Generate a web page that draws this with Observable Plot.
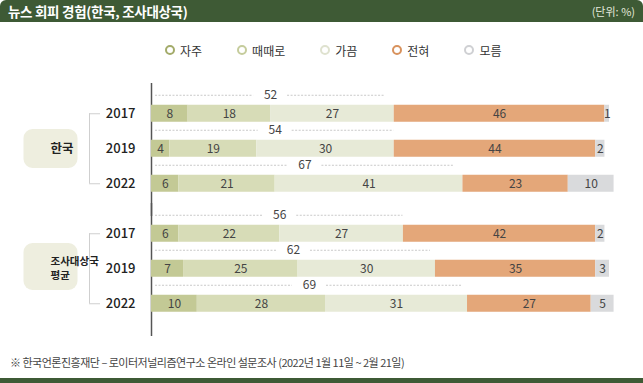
<!DOCTYPE html>
<html><head><meta charset="utf-8">
<script src="https://cdn.jsdelivr.net/npm/d3@7"></script>
<script src="https://cdn.jsdelivr.net/npm/@observablehq/plot@0.6"></script>
<style>
html,body{margin:0;padding:0;background:#fff;}
body{width:643px;height:383px;overflow:hidden;position:relative;font-family:"Noto Sans CJK KR","Noto Sans",sans-serif;}
#hdr{position:absolute;left:0;top:0;width:643px;height:22px;background:#3e5a35;border-radius:6px 6px 0 0;color:#fff;}
#hdr .t{position:absolute;left:8px;top:0;line-height:22px;font-size:13.5px;font-weight:700;letter-spacing:-0.3px;}
#hdr .u{position:absolute;right:8px;top:0;line-height:22px;font-size:11px;color:#e4e9dc;}
#legend{position:absolute;left:165px;top:40px;height:20px;display:flex;gap:35px;align-items:center;font-size:12px;color:#333;}
#legend .it{display:flex;align-items:center;gap:5px;}
#legend .sw{width:6px;height:6px;border-radius:50%;border:2.5px solid;background:#fff;}
#chart{position:absolute;left:0;top:70px;}
#note{position:absolute;left:10px;top:354px;font-size:11px;color:#444;letter-spacing:-0.5px;}
#foot{position:absolute;left:0;top:378px;width:643px;height:5px;background:#3e5a35;}
</style></head>
<body>
<div id="hdr"><span class="t">뉴스 회피 경험(한국, 조사대상국)</span><span class="u">(단위: %)</span></div>
<div id="legend"></div>
<div id="chart"></div>
<div id="note">※ 한국언론진흥재단 – 로이터저널리즘연구소 온라인 설문조사 (2022년 1월 11일 ~ 2월 21일)</div>
<div id="foot"></div>
<script>
const categories = ["자주", "때때로", "가끔", "전혀", "모름"];
const colors = ["#c3c995", "#d7dcb7", "#e7ead7", "#e4a779", "#d9dadc"];
const ringColors = ["#a3ab6a", "#c5cc9c", "#dfe2cf", "#d8925d", "#cfd0d3"];
const groups = ["한국", "조사대상국 평균"];
const groupLabels = ["한국", "조사대상국\n평균"];
const years = ["2017", "2019", "2022"];
// values per group, per year, in category order
const korea2017 = [8, 18, 27, 46, 1];
const korea2019 = [4, 19, 30, 44, 2];
const korea2022 = [6, 21, 41, 23, 10];
const avg2017 = [6, 22, 27, 42, 2];
const avg2019 = [7, 25, 30, 35, 3];
const avg2022 = [10, 28, 31, 27, 5];
// totals shown above bars (자주+때때로+가끔)
const totalsKorea = [52, 54, 67];
const totalsAvg = [56, 62, 69];

const series = [[korea2017, korea2019, korea2022], [avg2017, avg2019, avg2022]];
const rows = [];
groups.forEach((g, gi) => years.forEach((y, yi) => categories.forEach((c, ci) => {
  rows.push({group: g, year: y, cat: c, value: series[gi][yi][ci]});
})));
const totals = [];
[totalsKorea, totalsAvg].forEach((arr, gi) => years.forEach((y, yi) => totals.push({group: groups[gi], year: y, total: arr[yi]})));
const groupData = groups.map((g, i) => ({group: g, label: groupLabels[i]}));

// legend
const leg = d3.select("#legend");
categories.forEach((c, i) => {
  const it = leg.append("div").attr("class", "it");
  it.append("span").attr("class", "sw").style("border-color", ringColors[i]);
  it.append("span").text(c);
});

function roundBox(w) {
  return {draw(ctx, size) {
    const h = Math.sqrt(size / Math.PI) * 2, r = 9;
    const x0 = -w / 2, y0 = -h / 2, x1 = w / 2, y1 = h / 2;
    ctx.moveTo(x0 + r, y0);
    ctx.arcTo(x1, y0, x1, y1, r);
    ctx.arcTo(x1, y1, x0, y1, r);
    ctx.arcTo(x0, y1, x0, y0, r);
    ctx.arcTo(x0, y0, x1, y0, r);
    ctx.closePath();
  }};
}

const dash = "#c9c9c9";
const plot = Plot.plot({
  width: 643,
  height: 275,
  marginLeft: 151,
  marginRight: 34,
  marginTop: 17.25,
  marginBottom: 16.75,
  style: {fontFamily: "'Noto Sans CJK KR', sans-serif", fontSize: "12px", color: "#333"},
  x: {domain: [0, 100], axis: null},
  y: {domain: years, paddingInner: 0.528, paddingOuter: 0.4375, axis: null},
  fy: {domain: groups, padding: 0, axis: null},
  color: {domain: categories, range: colors},
  marks: [
    // vertical axis line
    Plot.ruleX([0], {stroke: "#555", strokeWidth: 1.5, insetTop: -5, insetBottom: -8}),
    // left bracket
    Plot.ruleX([{a: "2017", b: "2022"}], {x: () => 0, y1: "a", y2: "b", dx: -62, stroke: "#cfcfcf", insetTop: 8.5, insetBottom: 8.5}),
    Plot.ruleY(["2017", "2022"], {y: d => d, stroke: "#cfcfcf", insetLeft: -62, insetRight: 509}),
    // group boxes and labels
    Plot.dot(groupData.slice(0, 1), {fy: "group", frameAnchor: "left", dx: -101, symbol: roundBox(54), r: 19.5, fill: "#eeeedf", stroke: null}),
    Plot.dot(groupData.slice(1), {fy: "group", frameAnchor: "left", dx: -101, dy: -2, symbol: roundBox(54), r: 23.5, fill: "#eeeedf", stroke: null}),
    Plot.text(groupData.slice(0, 1), {fy: "group", frameAnchor: "left", dx: -101, text: "label", fontWeight: 700, fontSize: 12.5, fill: "#222"}),
    Plot.text(groupData.slice(1), {fy: "group", frameAnchor: "left", dx: -101, dy: -1, text: "label", fontWeight: 700, fontSize: 10.5, fill: "#222", lineHeight: 1.35}),
    // totals brackets
    Plot.ruleY(totals, {x1: () => 0, x2: d => d.total / 2, y: "year", fy: "group", dy: -18.5, insetLeft: 4, insetRight: 17, stroke: dash, strokeDasharray: "2,1.5"}),
    Plot.ruleY(totals, {x1: d => d.total / 2, x2: "total", y: "year", fy: "group", dy: -18.5, insetLeft: 17, insetRight: 5, stroke: dash, strokeDasharray: "2,1.5"}),
    Plot.ruleX(totals, {x: () => 0, y: "year", fy: "group", dx: 4, insetTop: -10, insetBottom: 22, stroke: dash}),
    Plot.ruleX(totals, {x: "total", y: "year", fy: "group", dx: -5, insetTop: -10, insetBottom: 22, stroke: dash}),
    Plot.text(totals, {x: d => d.total / 2, y: "year", fy: "group", dy: -18.5, text: "total", fill: "#444", fontSize: 12}),
    // bars
    Plot.barX(rows, Plot.stackX({x: "value", y: "year", fy: "group", fill: "cat", order: categories})),
    Plot.text(rows, Plot.stackX({x: "value", y: "year", fy: "group", z: "cat", order: categories, text: "value", fill: "#444", fontSize: 12})),
    // year labels
    Plot.axisY({tickSize: 0, tickPadding: 16, fontSize: 13, fontWeight: 500, fill: "#222", label: null})
  ]
});
document.getElementById("chart").appendChild(plot);
</script>
</body></html>
